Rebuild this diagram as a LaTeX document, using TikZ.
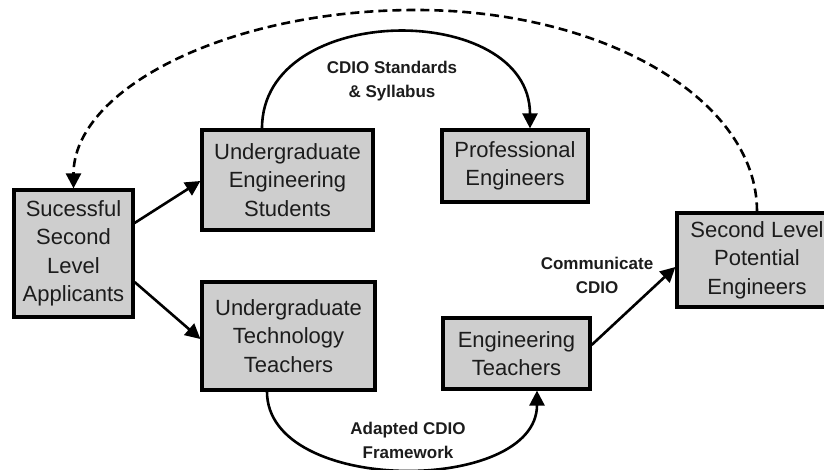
\documentclass[tikz,border=0pt]{standalone}
\usepackage{fontspec}
\setmainfont{Liberation Sans}
\usetikzlibrary{arrows.meta,calc}
\definecolor{boxfill}{RGB}{206,206,206}
\definecolor{inkc}{RGB}{28,28,28}
\tikzset{
  box/.style={draw=black, line width=3.2pt, fill=boxfill, text=inkc, align=center,
    inner sep=0pt, font=\fontsize{22}{28.5}\selectfont},
  conn/.style={line width=2.6pt, -{Triangle[length=15pt,width=15pt]}},
  dashconn/.style={conn, dash pattern=on 9pt off 5pt},
  lbl/.style={text=inkc, align=center, font=\fontsize{17}{24}\selectfont\bfseries}
}
\begin{document}
\begin{tikzpicture}[x=1pt,y=-1pt]
\useasboundingbox (0,0) rectangle (824,470);
\node[box, minimum width=119pt, minimum height=127pt] (S) at (73.5,253.5) {Sucessful\\Second\\Level\\Applicants};
\node[box, minimum width=171pt, minimum height=100pt] (UES) at (287.5,180) {Undergraduate\\Engineering\\Students};
\node[box, minimum width=146pt, minimum height=72pt] (PE) at (515,166) {Professional\\Engineers};
\node[box, minimum width=173pt, minimum height=108pt] (UTT) at (288.5,336) {Undergraduate\\Technology\\Teachers};
\node[box, minimum width=147pt, minimum height=71pt] (ET) at (516.5,353.5) {Engineering\\Teachers};
\node[box, minimum width=160pt, minimum height=94pt] (SLPE) at (757,260) {Second Level\\Potential\\Engineers};

\node[lbl] (l1) at (392,81) {CDIO Standards\\\& Syllabus};
\node[lbl] (l2) at (408,440) {Adapted CDIO\\Framework};
\node[lbl] (l3) at (597,275) {Communicate\\CDIO};

\coordinate (top) at (416,10);

\draw[conn] ([yshift=30.5pt]S.east) -- ([yshift=-1pt]UES.west);
\draw[conn] ([yshift=-28.5pt]S.east) -- ([yshift=-3pt]UTT.west);
\draw[conn] ([yshift=8.5pt]ET.east) -- ([yshift=-7pt]SLPE.west);
\draw[conn] ([xshift=-25.5pt]UES.north) .. controls ($([xshift=-25.5pt]UES.north)+(0,-128)$) and ($([xshift=15pt]PE.north)+(0,-128)$) .. ([xshift=15pt]PE.north);
\draw[conn] ([xshift=-21.5pt]UTT.south) .. controls ($([xshift=-21.5pt]UTT.south)+(0,104)$) and ($([xshift=20.5pt]ET.south)+(0,104)$) .. ([xshift=20.5pt]ET.south);
\draw[dashconn] (SLPE.north) .. controls ($(SLPE.north)+(0,-112)$) and ($(top)+(188,0)$) .. (top)
  .. controls ($(top)+(-189,0)$) and ($(S.north)+(0,-99)$) .. (S.north);
\end{tikzpicture}
\end{document}
